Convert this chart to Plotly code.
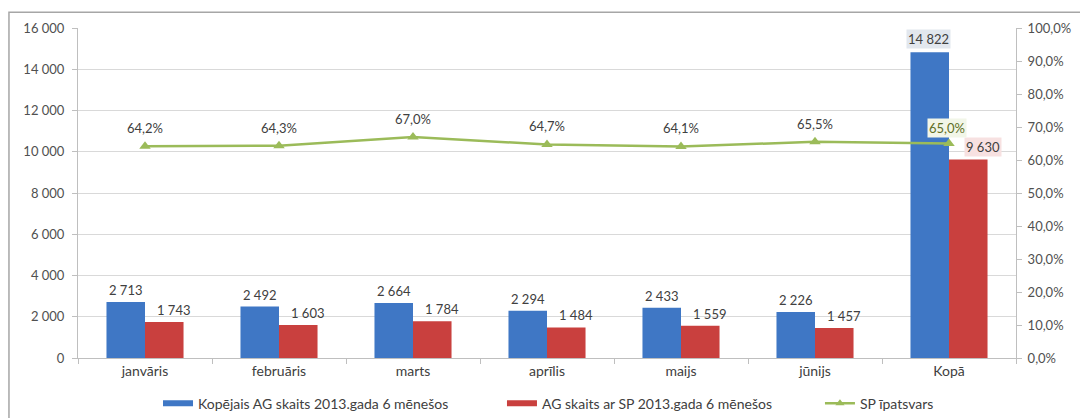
import plotly.graph_objects as go

categories = ["janvāris", "februāris", "marts", "aprīlis", "maijs", "jūnijs", "Kopā"]
total_ag = [2713, 2492, 2664, 2294, 2433, 2226, 14822]
ag_sp = [1743, 1603, 1784, 1484, 1559, 1457, 9630]
sp_share = [0.642, 0.643, 0.670, 0.647, 0.641, 0.655, 0.650]

name_total = "Kopējais AG skaits 2013.gada 6 mēnešos"
name_sp = "AG skaits ar SP 2013.gada 6 mēnešos"
name_share = "SP īpatsvars"

BLUE = "#3F77C5"
RED = "#C9403E"
GREEN = "#9BBB59"
FONT = "Lato"
TXT = "#404040"


def fmt_int(v):
    return f"{v:,}".replace(",", " ")


def fmt_pct(v):
    return f"{v*100:.1f}%".replace(".", ",")


n = len(categories)
last = n - 1

fig = go.Figure()
fig.add_trace(go.Bar(x=categories, y=total_ag, name=name_total, marker_color=BLUE,
                     marker_line_width=0, showlegend=False))
fig.add_trace(go.Bar(x=categories, y=ag_sp, name=name_sp, marker_color=RED,
                     marker_line_width=0, showlegend=False))
fig.add_trace(go.Scatter(
    x=categories, y=sp_share, name=name_share, yaxis="y2",
    mode="lines+markers", showlegend=False,
    line=dict(color=GREEN, width=2.5),
    marker=dict(symbol="triangle-up", size=10, color=GREEN),
))
# legend entries (Excel-like wide line swatches), one legend box each
fig.add_trace(go.Scatter(x=[None], y=[None], mode="lines", name=name_total,
                         line=dict(color=BLUE, width=6), legend="legend"))
fig.add_trace(go.Scatter(x=[None], y=[None], mode="lines", name=name_sp,
                         line=dict(color=RED, width=6), legend="legend2"))
fig.add_trace(go.Scatter(x=[None], y=[None], mode="lines+markers", name=name_share,
                         line=dict(color=GREEN, width=2.5),
                         marker=dict(symbol="triangle-up", size=8, color=GREEN),
                         legend="legend3"))

lab_font = dict(size=13, color=TXT, family=FONT)
pct_font = dict(size=13, color=TXT, family=FONT)

annotations = []
for i, c in enumerate(categories):
    if i < last:
        annotations.append(dict(x=c, y=total_ag[i], xref="x", yref="y", text=fmt_int(total_ag[i]),
                                showarrow=False, xshift=-19, yshift=12, font=lab_font))
        annotations.append(dict(x=c, y=ag_sp[i], xref="x", yref="y", text=fmt_int(ag_sp[i]),
                                showarrow=False, xshift=29, yshift=12, font=lab_font))
        annotations.append(dict(x=c, y=sp_share[i], xref="x", yref="y2", text=fmt_pct(sp_share[i]),
                                showarrow=False, yshift=18, font=pct_font))

annotations.append(dict(x=categories[last], y=total_ag[last], xref="x", yref="y",
                        text=fmt_int(total_ag[last]), showarrow=False, xshift=-21, yshift=13,
                        bgcolor="#e2e7ee", borderpad=1, font=lab_font))
annotations.append(dict(x=categories[last], y=ag_sp[last], xref="x", yref="y",
                        text=fmt_int(ag_sp[last]), showarrow=False, xshift=34, yshift=12,
                        bgcolor="#f7e1e1", borderpad=1, font=lab_font))
annotations.append(dict(x=categories[last], y=sp_share[last], xref="x", yref="y2",
                        text=fmt_pct(sp_share[last]), showarrow=False, xshift=-2, yshift=16,
                        bgcolor="#f2f6e8", borderpad=1,
                        font=dict(size=13, color="#5f6f25", family=FONT)))


def legend_at(xpos):
    return dict(orientation="h", x=xpos, xanchor="left", xref="paper",
                yref="container", y=0.035, yanchor="middle",
                font=dict(size=14, color=TXT, family=FONT), itemwidth=30,
                bgcolor="rgba(0,0,0,0)")


fig.update_layout(
    width=1080, height=410,
    margin=dict(l=70, r=72, t=20, b=60),
    paper_bgcolor="white", plot_bgcolor="white",
    separators=", ",
    barmode="group", bargap=0.425, bargroupgap=0,
    font=dict(family=FONT, size=12, color=TXT),
    showlegend=True,
    legend=legend_at(0.0853),
    legend2=legend_at(0.452),
    legend3=legend_at(0.791),
    xaxis=dict(showline=True, linecolor="#bfbfbf", ticks="outside", tickcolor="#bfbfbf",
               ticklen=5, tickson="boundaries", automargin=False,
               tickfont=dict(size=14, color=TXT)),
    yaxis=dict(range=[0, 16000], dtick=2000, showgrid=True, gridcolor="#d9d9d9",
               showline=True, linecolor="#bfbfbf", ticks="outside", tickcolor="#bfbfbf", ticklen=5,
               separatethousands=True, tickformat=",d", zeroline=False, automargin=False,
               ticklabelstandoff=5,
               tickfont=dict(size=13, color="#505050")),
    yaxis2=dict(range=[0, 1], dtick=0.1, overlaying="y", side="right", tickformat=".1%",
                showgrid=False, showline=True, linecolor="#bfbfbf", ticks="outside",
                tickcolor="#bfbfbf", ticklen=5, zeroline=False, automargin=False,
                ticklabelstandoff=3,
                tickfont=dict(size=13, color="#505050")),
    annotations=annotations,
    shapes=[dict(type="rect", xref="paper", yref="paper", x0=-0.0736, x1=1.2, y0=-0.4, y1=1.048,
                 line=dict(color="#a6a6a6", width=1.5), fillcolor="rgba(0,0,0,0)", layer="below")],
)

fig.write_html("out.html")
